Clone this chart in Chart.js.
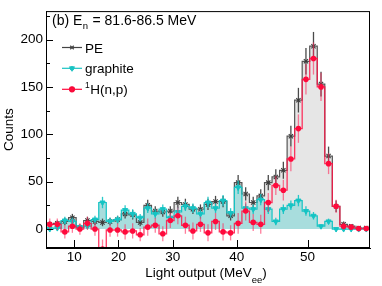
<!DOCTYPE html>
<html>
<head>
<meta charset="utf-8">
<script src="https://cdn.jsdelivr.net/npm/chart.js@4.4.1/dist/chart.umd.min.js"></script>
<style>
html,body{margin:0;padding:0;background:#fff;}
</style>
</head>
<body>
<canvas id="c" width="382" height="286"></canvas>
<script>
/* ===========================
   DATA (one value per light-output bin)
=========================== */

const peCounts = [5,6,8,12,2,9,8,7,8,10,16,15,7,25,19,18,19,28,26,21,21,26,29,29,14,49,37,28,35,49,55,62,98,136,177,193,153,77,24,5,3,1,1];
const peErrors = [3,3,4,4,3,4,4,4,4,4,5,5,4,6,5,5,5,6,6,5,5,6,6,6,5,8,7,6,7,8,8,9,11,13,14,15,13,10,6,3,2,2,2];

const graphiteCounts = [0,1,9,8,2,3,10,28,8,10,20,16,12,22,16,21,12,18,24,22,16,28,22,30,17,44,22,21,31,21,8,21,25,30,19,14,3,8,0,0,0,0,0];
const graphiteErrors = [2,2,4,4,2,3,4,6,4,4,5,5,4,5,5,5,4,5,5,5,5,6,5,6,5,7,5,5,6,5,4,5,5,6,5,4,2,3,1,1,1,1,1];

const hnpCounts = [5,5,-3,3,0,6,0,-21,-1,-1,-3,-2,-6,2,4,-5,9,14,4,-2,5,-4,8,-3,-4,6,19,7,5,28,46,41,74,106,158,180,150,69,24,3,2,0.5,0.5];
const hnpErrors = [6,6,7,7,6,7,7,10,7,7,8,8,7,9,8,8,8,9,9,9,8,9,9,9,8,11,10,9,10,10,10,11,13,15,16,17,15,11,7,4,3,2,2];

// light-output ticks sit at these positions on the bin axis
const xTickPos = [3.76, 9.62, 16.82, 25.31, 34.71];
const xTickLabels = ["10","20","30","40","50"];

const yTickValues = [0,50,100,150,200];
const yMinorValues = [25,75,125,175,225];

const FONT = "'Liberation Sans', Arial, sans-serif";

/* ===========================
   HELPERS
=========================== */

function histEdges(counts){
    const pts = counts.map((v,i)=>({x:i,y:v}));
    pts.push({x:counts.length,y:counts[counts.length-1]});
    return pts;
}

function binCenters(counts){
    return counts.map((v,i)=>({x:i+0.5,y:v}));
}

/* ===========================
   PLUGINS
=========================== */

const errorBars = {
    id:"errorBars",
    beforeDatasetDraw(chart,args){
        const ds = chart.data.datasets[args.index];
        if(!ds.errY) return;
        const ctx = chart.ctx;
        const a = chart.chartArea;
        const ys = chart.scales.y;
        ctx.save();
        ctx.beginPath();
        ctx.rect(a.left,a.top,a.right-a.left,a.bottom-a.top);
        ctx.clip();
        ctx.strokeStyle = ds.errColor;
        ctx.lineWidth = 1.3;
        args.meta.data.forEach((pt,i)=>{
            const v = ds.data[i].y;
            const e = ds.errY[i];
            ctx.beginPath();
            ctx.moveTo(pt.x,ys.getPixelForValue(v+e));
            ctx.lineTo(pt.x,ys.getPixelForValue(v-e));
            ctx.stroke();
        });
        ctx.restore();
    }
};

const frameAndText = {
    id:"frameAndText",
    afterDraw(chart){
        const ctx = chart.ctx;
        const a = chart.chartArea;
        const xs = chart.scales.x;
        const ys = chart.scales.y;
        ctx.save();

        // frame
        ctx.strokeStyle = "#000";
        ctx.lineWidth = 1;
        ctx.strokeRect(a.left+0.5,a.top+0.5,a.right-a.left-1,a.bottom-a.top-1);

        // inward ticks
        ctx.beginPath();
        xTickPos.forEach(v=>{
            const px = Math.round(xs.getPixelForValue(v))+0.5;
            ctx.moveTo(px,a.bottom);
            ctx.lineTo(px,a.bottom-8);
        });
        yTickValues.forEach(v=>{
            const py = Math.round(ys.getPixelForValue(v))+0.5;
            ctx.moveTo(a.left,py);
            ctx.lineTo(a.left+7,py);
        });
        yMinorValues.forEach(v=>{
            const py = Math.round(ys.getPixelForValue(v))+0.5;
            ctx.moveTo(a.left,py);
            ctx.lineTo(a.left+4,py);
        });
        ctx.stroke();

        ctx.fillStyle = "#000";
        ctx.textBaseline = "alphabetic";

        // x title with subscript
        const big = "13.5px "+FONT;
        const small = "9.5px "+FONT;
        ctx.font = big;
        const t1 = "Light output (MeV";
        const w1 = ctx.measureText(t1).width;
        const w3 = ctx.measureText(")").width;
        ctx.font = small;
        const w2 = ctx.measureText("ee").width;
        let x0 = 206-(w1+w2+w3)/2;
        ctx.font = big;
        ctx.textAlign = "left";
        ctx.fillText(t1,x0,277);
        ctx.font = small;
        ctx.fillText("ee",x0+w1,283);
        ctx.font = big;
        ctx.fillText(")",x0+w1+w2,277);

        // header: (b) E_n = 81.6-86.5 MeV
        const head = "14px "+FONT;
        let hx = 52;
        ctx.font = head;
        ctx.fillText("(b) E",hx,25);
        hx += ctx.measureText("(b) E").width;
        ctx.font = small;
        ctx.fillText("n",hx+0.5,29);
        hx += ctx.measureText("n").width+1;
        ctx.font = head;
        ctx.fillText(" = 81.6-86.5 MeV",hx,25);

        // legend
        const rows = [
            {y:47.5,color:"#444",style:"crossRot",label:"PE"},
            {y:68.3,color:"#19c3c3",style:"triangle",label:"graphite"},
            {y:89.3,color:"#ff0a3c",style:"circle",label:"H(n,p)",sup:"1"}
        ];
        rows.forEach(r=>{
            ctx.strokeStyle = r.color;
            ctx.lineWidth = 1.2;
            ctx.beginPath();
            ctx.moveTo(62,r.y);
            ctx.lineTo(82,r.y);
            ctx.stroke();
            Chart.helpers.drawPoint(ctx,{
                pointStyle:r.style,
                radius:2.5,
                rotation:r.style==="triangle"?180:0,
                borderWidth:1
            },72,r.y);
            ctx.fillStyle = r.color;
            if(r.style!=="crossRot"){
                ctx.beginPath();
                ctx.arc(72,r.y,2.3,0,Math.PI*2);
                ctx.fill();
            }
            ctx.fillStyle = "#000";
            let lx = 85;
            if(r.sup){
                ctx.font = "8.5px "+FONT;
                ctx.fillText(r.sup,lx,r.y-1);
                lx += ctx.measureText(r.sup).width+0.5;
            }
            ctx.font = big;
            ctx.fillText(r.label,lx,r.y+5);
        });

        ctx.restore();
    }
};

/* ===========================
   CHART
=========================== */

const peColor = "#3a3a3a";
const grColor = "#14c4c4";
const hnpColor = "#ff0a3c";

const chart = new Chart(
    document.getElementById("c"),
    {
        type:"line",
        data:{
            datasets:[
                {
                    label:"PE hist",
                    data:histEdges(peCounts),
                    stepped:"before",
                    fill:"origin",
                    backgroundColor:"#e6e6e6",
                    borderColor:"#555555",
                    borderWidth:1.2,
                    pointRadius:0,
                    order:7
                },
                {
                    label:"graphite hist",
                    data:histEdges(graphiteCounts),
                    stepped:"before",
                    fill:"origin",
                    backgroundColor:"#a8dddd",
                    borderColor:grColor,
                    borderWidth:1.2,
                    pointRadius:0,
                    order:6
                },
                {
                    label:"1H(n,p) hist",
                    data:histEdges(hnpCounts),
                    stepped:"before",
                    fill:false,
                    borderColor:"rgba(255,20,70,0.85)",
                    borderWidth:1.3,
                    pointRadius:0,
                    order:5
                },
                {
                    label:"PE",
                    data:binCenters(peCounts),
                    errY:peErrors,
                    errColor:"#4a4a4a",
                    showLine:false,
                    pointStyle:"crossRot",
                    pointRadius:3,
                    pointBorderWidth:1.1,
                    pointBorderColor:peColor,
                    order:3
                },
                {
                    label:"graphite",
                    data:binCenters(graphiteCounts),
                    errY:graphiteErrors,
                    errColor:"rgba(20,196,196,0.9)",
                    showLine:false,
                    pointStyle:"triangle",
                    rotation:180,
                    pointRadius:3,
                    pointBorderWidth:1,
                    pointBackgroundColor:grColor,
                    pointBorderColor:grColor,
                    order:2
                },
                {
                    label:"1H(n,p)",
                    data:binCenters(hnpCounts),
                    errY:hnpErrors,
                    errColor:"rgba(255,40,90,0.6)",
                    showLine:false,
                    pointStyle:"circle",
                    pointRadius:2.8,
                    pointBorderWidth:0,
                    pointBackgroundColor:hnpColor,
                    order:1
                }
            ]
        },
        options:{
            responsive:false,
            animation:false,
            devicePixelRatio:1,
            layout:{
                padding:{left:0,right:12,top:8,bottom:0}
            },
            plugins:{
                legend:{display:false},
                tooltip:{enabled:false},
                filler:{drawTime:"beforeDatasetsDraw"}
            },
            scales:{
                x:{
                    type:"linear",
                    min:0,
                    max:peCounts.length,
                    afterBuildTicks(scale){
                        scale.ticks = xTickPos.map(v=>({value:v}));
                    },
                    afterFit(scale){
                        scale.height = 38;
                    },
                    ticks:{
                        autoSkip:false,
                        maxRotation:0,
                        padding:1,
                        color:"#000",
                        font:{family:FONT,size:13.5},
                        callback:(v,i)=>xTickLabels[i]
                    },
                    grid:{display:false,drawTicks:false},
                    border:{display:true,color:"#000"}
                },
                y:{
                    min:-20,
                    max:230,
                    afterBuildTicks(scale){
                        scale.ticks = yTickValues.map(v=>({value:v}));
                    },
                    afterFit(scale){
                        scale.width = 46;
                    },
                    ticks:{
                        padding:3,
                        color:"#000",
                        font:{family:FONT,size:13.5}
                    },
                    title:{
                        display:true,
                        text:"Counts",
                        color:"#000",
                        font:{family:FONT,size:13.5},
                        padding:{top:1,bottom:0}
                    },
                    grid:{display:false,drawTicks:false},
                    border:{display:true,color:"#000"}
                }
            }
        },
        plugins:[errorBars,frameAndText]
    }
);
</script>
</body>
</html>
